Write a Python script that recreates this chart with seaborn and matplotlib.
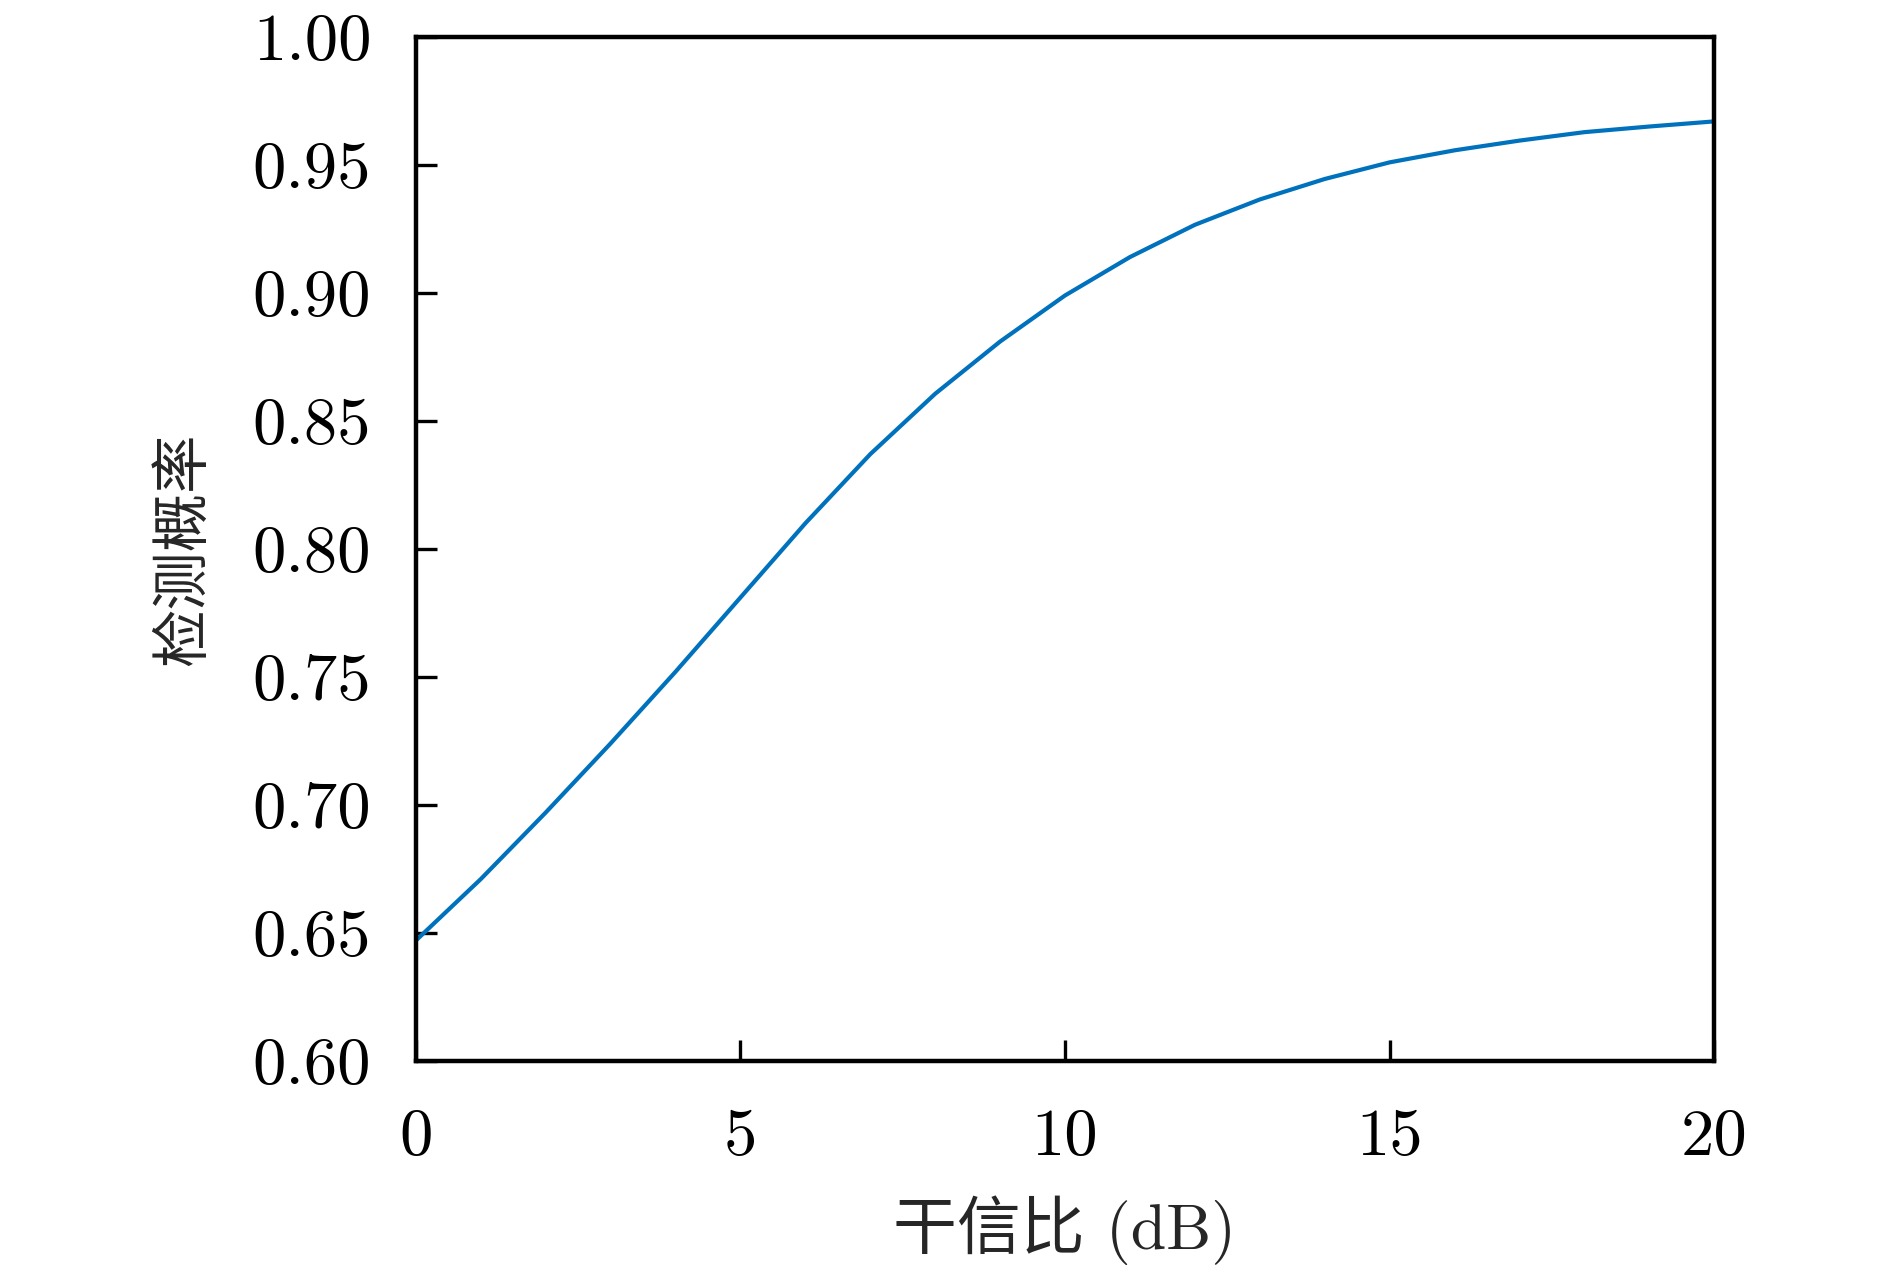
import matplotlib
matplotlib.use("Agg")
import matplotlib.pyplot as plt
import seaborn as sns
import pandas as pd
from matplotlib.ticker import FixedLocator, FixedFormatter

# Data
jsr_db = [0, 1, 2, 3, 4, 5, 6, 7, 8, 9, 10, 11, 12, 13, 14, 15, 16, 17, 18, 19, 20]
pd_detect = [0.647, 0.671, 0.697, 0.724, 0.752, 0.781, 0.810, 0.837, 0.8606, 0.881, 0.899,
             0.914, 0.9266, 0.9365, 0.9445, 0.951, 0.9557, 0.9595, 0.9628, 0.965, 0.967]
x_ticks = [0, 5, 10, 15, 20]
x_tick_labels = ["0", "5", "10", "15", "20"]
y_ticks = [0.60, 0.65, 0.70, 0.75, 0.80, 0.85, 0.90, 0.95, 1.00]
y_tick_labels = ["0.60", "0.65", "0.70", "0.75", "0.80", "0.85", "0.90", "0.95", "1.00"]
x_label = "干信比 (dB)"
y_label = "检测概率"

sns.set_style("ticks")
plt.rcParams["font.family"] = ["cmr10", "Noto Sans CJK SC", "DejaVu Serif"]
plt.rcParams["axes.unicode_minus"] = False

df = pd.DataFrame({"x": jsr_db, "y": pd_detect})

fig = plt.figure(figsize=(18.9, 12.73), dpi=100)
ax = fig.add_axes([0.220, 0.1666, 0.687, 0.8044])
sns.lineplot(data=df, x="x", y="y", ax=ax, color="#0072BD", linewidth=3.0)

ax.set_xlim(0, 20)
ax.set_ylim(0.60, 1.00)
ax.xaxis.set_major_locator(FixedLocator(x_ticks))
ax.xaxis.set_major_formatter(FixedFormatter(x_tick_labels))
ax.yaxis.set_major_locator(FixedLocator(y_ticks))
ax.yaxis.set_major_formatter(FixedFormatter(y_tick_labels))

for s in ax.spines.values():
    s.set_visible(True)
    s.set_linewidth(3.2)
    s.set_color("black")

ax.tick_params(axis="both", direction="in", length=15, width=2.4, labelsize=48,
               top=False, right=False, colors="black")
ax.tick_params(axis="x", pad=34)
ax.tick_params(axis="y", pad=32)

ax.set_xlabel(x_label, fontsize=46, labelpad=20,
              family=["cmr10", "Noto Sans CJK SC"])
ax.set_ylabel(y_label, fontsize=42, labelpad=28,
              family=["Noto Sans CJK SC", "cmr10"])
ax.grid(False)

fig.savefig("out.png", dpi=100, facecolor="white")
